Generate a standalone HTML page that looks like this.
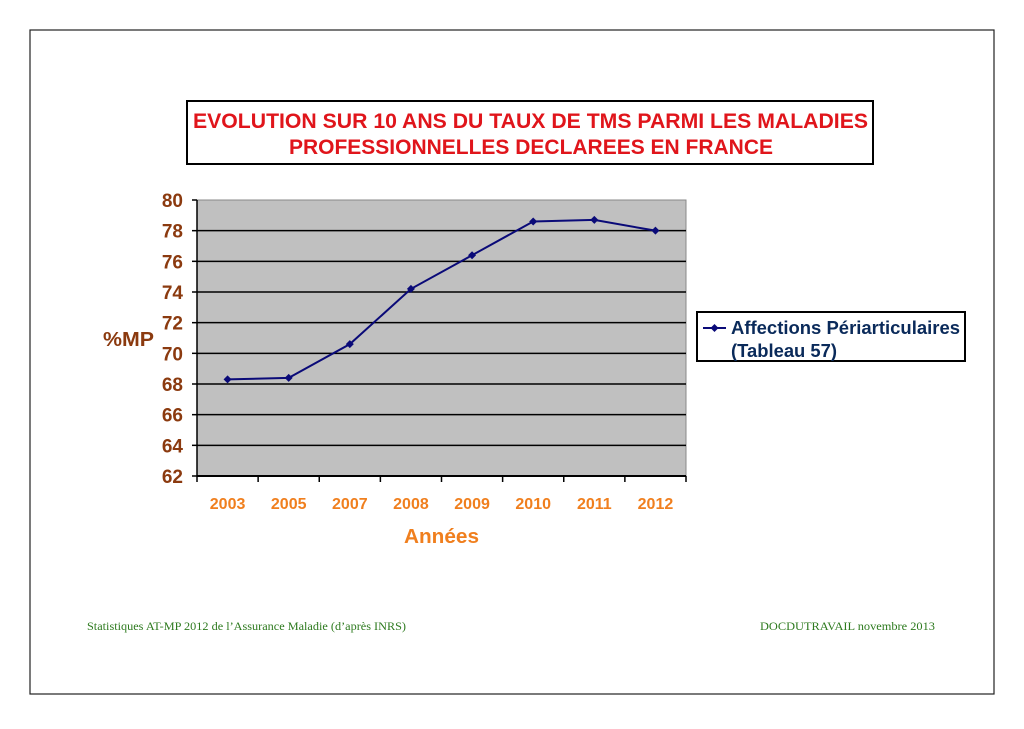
<!DOCTYPE html>
<html><head><meta charset="utf-8"><style>
body{margin:0;background:#fff;width:1024px;height:724px;overflow:hidden;font-family:"Liberation Sans",sans-serif}
</style></head><body>
<svg width="1024" height="724" xmlns="http://www.w3.org/2000/svg">
<rect x="30" y="30" width="964" height="664" fill="#fff" stroke="#222" stroke-width="1.2"/>
<rect x="187" y="101" width="686" height="63" fill="#fff" stroke="#000" stroke-width="2"/>
<text x="193" y="128" font-size="21" font-weight="bold" fill="#e0151b" textLength="675" lengthAdjust="spacingAndGlyphs">EVOLUTION SUR 10 ANS DU TAUX DE TMS PARMI LES MALADIES</text>
<text x="289" y="154" font-size="21" font-weight="bold" fill="#e0151b" textLength="484" lengthAdjust="spacingAndGlyphs">PROFESSIONNELLES DECLAREES EN FRANCE</text>
<rect x="197" y="200" width="489" height="276" fill="#c0c0c0" stroke="#888"/>
<g id="grid"></g><g id="axes"></g><g id="series"></g>
<text x="103" y="346" font-size="20" font-weight="bold" fill="#8b3a0f" textLength="51" lengthAdjust="spacingAndGlyphs">%MP</text>
<text x="404" y="543" font-size="20" font-weight="bold" fill="#f07f1e" textLength="75" lengthAdjust="spacingAndGlyphs">Années</text>
<rect x="697" y="312" width="268" height="49" fill="#fff" stroke="#000" stroke-width="2"/>
<line x1="703" y1="328" x2="726" y2="328" stroke="#0a0a78" stroke-width="2"/>
<path d="M714.5 324 L718.5 328 L714.5 332 L710.5 328Z" fill="#0a0a78"/>
<text x="731" y="334" font-size="18" font-weight="bold" fill="#0a2a5a" textLength="229" lengthAdjust="spacingAndGlyphs">Affections Périarticulaires</text>
<text x="731" y="357" font-size="18" font-weight="bold" fill="#0a2a5a" textLength="106" lengthAdjust="spacingAndGlyphs">(Tableau 57)</text>
<text x="87" y="630" font-family="Liberation Serif" font-size="12" fill="#2d7a1e" textLength="319" lengthAdjust="spacingAndGlyphs">Statistiques AT-MP 2012 de l’Assurance Maladie (d’après INRS)</text>
<text x="760" y="630" font-family="Liberation Serif" font-size="12" fill="#2d7a1e" textLength="175" lengthAdjust="spacingAndGlyphs">DOCDUTRAVAIL novembre 2013</text>
</svg>
<script>
const categories=["2003","2005","2007","2008","2009","2010","2011","2012"];
const values=[68.3,68.4,70.6,74.2,76.4,78.6,78.7,78.0];
const yTicks=[62,64,66,68,70,72,74,76,78,80];
const NS="http://www.w3.org/2000/svg";
const X0=197,X1=686,Y0=476,Y1=200,YMIN=62,YMAX=80;
const bw=(X1-X0)/categories.length;
function xs(i){return X0+bw*(i+0.5);}
function ys(v){return Y0-(v-YMIN)/(YMAX-YMIN)*(Y0-Y1);}
function mk(tag,attrs,parent){const e=document.createElementNS(NS,tag);for(const k in attrs)e.setAttribute(k,attrs[k]);document.getElementById(parent).appendChild(e);return e;}
yTicks.forEach(t=>{
  const y=ys(t);
  if(t>YMIN&&t<YMAX){const g=mk('line',{x1:X0,x2:X1,y1:y,y2:y,stroke:'#000','stroke-width':1.5},'grid');
  
  }
  const tk=mk('line',{x1:X0-5,x2:X0,y1:y,y2:y,stroke:'#000','stroke-width':1.5},'axes');
  
  
  const lb=mk('text',{x:X0-14,y:y+7,'text-anchor':'end','font-size':19,'font-weight':'bold',fill:'#8b3a0f'},'axes');
  lb.textContent=t;
  
  
});
const ya=mk('line',{x1:X0,x2:X0,y1:Y1,y2:Y0,stroke:'#000','stroke-width':1.5},'axes');


const xa=mk('line',{x1:X0,x2:X1,y1:Y0,y2:Y0,stroke:'#000','stroke-width':2},'axes');


for(let i=0;i<=categories.length;i++){
  const x=X0+bw*i;
  const tk=mk('line',{x1:x,x2:x,y1:Y0,y2:Y0+6,stroke:'#000','stroke-width':1.5},'axes');
  
  
}
categories.forEach((c,i)=>{
  const lb=mk('text',{x:xs(i),y:509,'text-anchor':'middle','font-size':16,'font-weight':'bold',fill:'#f07f1e'},'axes');
  lb.textContent=c;
  
  
});
const pts=values.map((v,i)=>xs(i)+','+ys(v)).join(' ');
const pl=mk('polyline',{points:pts,fill:'none',stroke:'#0a0a78','stroke-width':2},'series');


values.forEach((v,i)=>{
  const x=xs(i),y=ys(v);
  const p=mk('path',{d:`M${x} ${y-4} L${x+4} ${y} L${x} ${y+4} L${x-4} ${y}Z`,fill:'#0a0a78'},'series');
  
  
});
</script>
</body></html>
